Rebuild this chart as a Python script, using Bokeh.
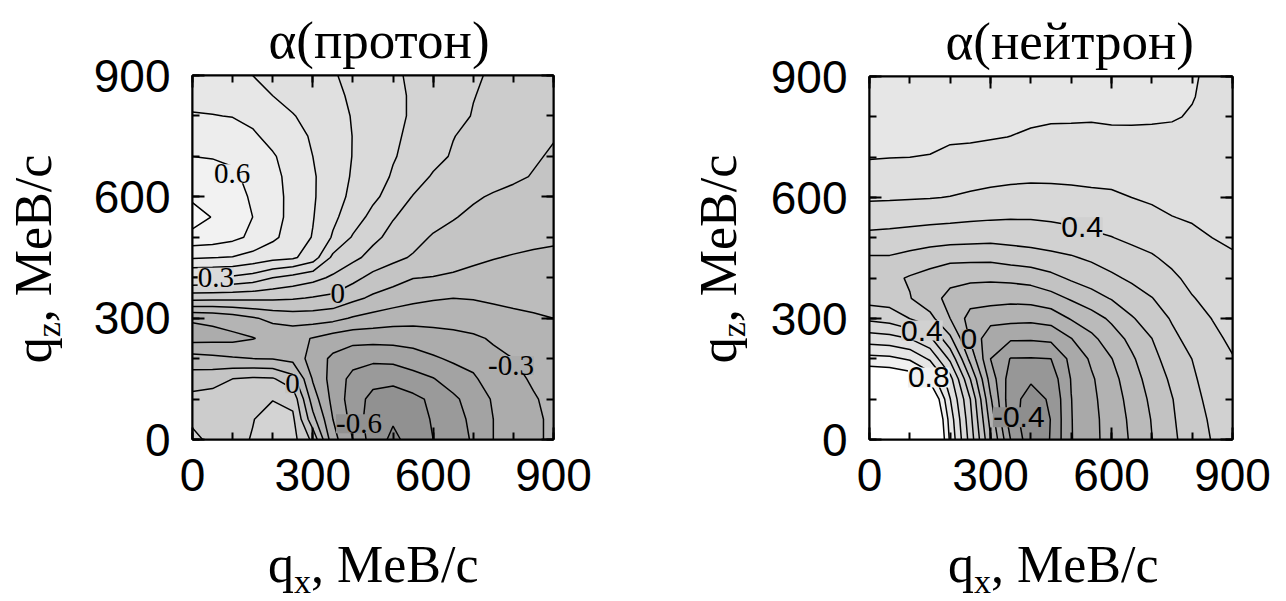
import numpy as np
from bokeh.plotting import figure
from bokeh.models import FixedTicker, LinearAxis, Label, Range1d, Div, Title
from bokeh.layouts import row, column
from bokeh.embed import file_html
from bokeh.resources import INLINE

# ---------------- grid (MeV/c) ----------------
qx = [0, 50, 100, 150, 200, 250, 300, 350, 400, 450, 500, 550, 600, 650, 700, 750, 800, 850, 900]
qz = [0, 50, 100, 150, 200, 250, 300, 350, 400, 450, 500, 550, 600, 650, 700, 750, 800, 850, 900]

# ---------------- alpha(proton): one list per qz row, values along qx ----------------
p_z0   = [0.12, 0.08, 0.085, 0.103, 0.14, 0.135, -0.025, -0.364, -0.5, -0.653, -0.72, -0.666, -0.6, -0.555, -0.487, -0.4, -0.36, -0.32, -0.28]
p_z50  = [0.085, 0.08, 0.085, 0.098, 0.12, 0.12, -0.167, -0.4, -0.535, -0.66, -0.69, -0.65, -0.59, -0.535, -0.48, -0.4, -0.36, -0.32, -0.28]
p_z100 = [0.03, 0.04, 0.055, 0.08, 0.098, 0.07, -0.25, -0.43, -0.55, -0.63, -0.655, -0.625, -0.58, -0.52, -0.455, -0.39, -0.35, -0.31, -0.27]
p_z150 = [-0.05, -0.037, 0.0, 0.015, 0.01, -0.065, -0.31, -0.44, -0.53, -0.567, -0.57, -0.537, -0.505, -0.45, -0.415, -0.35, -0.33, -0.285, -0.26]
p_z200 = [-0.16, -0.175, -0.19, -0.2, -0.205, -0.23, -0.345, -0.42, -0.462, -0.478, -0.473, -0.448, -0.413, -0.385, -0.365, -0.321, -0.3, -0.255, -0.24]
p_z250 = [-0.335, -0.33, -0.325, -0.305, -0.27, -0.27, -0.305, -0.345, -0.367, -0.366, -0.363, -0.355, -0.34, -0.328, -0.315, -0.29, -0.258, -0.232, -0.22]
p_z300 = [-0.29, -0.28, -0.25, -0.21, -0.175, -0.155, -0.155, -0.17, -0.21, -0.235, -0.255, -0.265, -0.265, -0.262, -0.25, -0.235, -0.22, -0.21, -0.2]
p_z350 = [0.038, 0.033, 0.028, 0.024, 0.02, 0.01, -0.006, -0.022, -0.075, -0.117, -0.147, -0.174, -0.191, -0.199, -0.195, -0.185, -0.178, -0.172, -0.166]
p_z400 = [0.295, 0.29, 0.283, 0.256, 0.2, 0.165, 0.13, 0.084, 0.03, -0.03, -0.062, -0.097, -0.104, -0.115, -0.122, -0.128, -0.133, -0.137, -0.14]
p_z450 = [0.51, 0.502, 0.495, 0.465, 0.43, 0.415, 0.35, 0.178, 0.122, 0.07, 0.025, -0.01, -0.035, -0.06, -0.085, -0.097, -0.105, -0.11, -0.113]
p_z500 = [0.665, 0.655, 0.625, 0.58, 0.52, 0.455, 0.395, 0.29, 0.19, 0.12, 0.075, 0.035, -0.01, -0.03, -0.05, -0.065, -0.075, -0.085, -0.09]
p_z550 = [0.75, 0.695, 0.65, 0.6, 0.535, 0.47, 0.405, 0.32, 0.25, 0.17, 0.105, 0.07, 0.038, 0.006, -0.02, -0.04, -0.05, -0.06, -0.07]
p_z600 = [0.68, 0.675, 0.645, 0.585, 0.53, 0.475, 0.41, 0.345, 0.275, 0.22, 0.16, 0.095, 0.07, 0.05, 0.012, -0.01, -0.025, -0.04, -0.055]
p_z650 = [0.64, 0.635, 0.615, 0.575, 0.525, 0.47, 0.41, 0.35, 0.29, 0.245, 0.19, 0.145, 0.09, 0.07, 0.05, 0.035, 0.015, -0.005, -0.02]
p_z700 = [0.6, 0.595, 0.585, 0.56, 0.51, 0.455, 0.4, 0.35, 0.297, 0.26, 0.207, 0.17, 0.13, 0.09, 0.065, 0.045, 0.025, 0.01, -0.01]
p_z750 = [0.553, 0.55, 0.54, 0.515, 0.47, 0.43, 0.39, 0.345, 0.298, 0.26, 0.215, 0.18, 0.14, 0.103, 0.075, 0.055, 0.035, 0.02, 0.005]
p_z800 = [0.505, 0.503, 0.497, 0.475, 0.445, 0.405, 0.37, 0.33, 0.295, 0.26, 0.22, 0.19, 0.16, 0.13, 0.095, 0.075, 0.055, 0.035, 0.015]
p_z850 = [0.48, 0.465, 0.45, 0.43, 0.4, 0.37, 0.345, 0.315, 0.29, 0.26, 0.22, 0.19, 0.16, 0.135, 0.103, 0.08, 0.06, 0.04, 0.025]
p_z900 = [0.46, 0.44, 0.42, 0.4, 0.376, 0.352, 0.33, 0.305, 0.285, 0.255, 0.215, 0.185, 0.16, 0.135, 0.11, 0.09, 0.07, 0.05, 0.03]

# ---------------- alpha(neutron): one list per qx column, values along qz ----------------
n_x0   = [1.2, 1.17, 1.08, 0.92, 0.732, 0.55, 0.378, 0.26, 0.225, 0.29, 0.372, 0.446, 0.512, 0.563, 0.605, 0.62, 0.635, 0.645, 0.65]
n_x50  = [1.18, 1.15, 1.06, 0.9, 0.723, 0.537, 0.357, 0.252, 0.225, 0.29, 0.367, 0.441, 0.51, 0.559, 0.602, 0.618, 0.633, 0.643, 0.65]
n_x100 = [1.15, 1.12, 1.03, 0.87, 0.687, 0.5, 0.299, 0.205, 0.19, 0.27, 0.354, 0.437, 0.507, 0.553, 0.6, 0.615, 0.63, 0.64, 0.648]
n_x150 = [1.1, 1.06, 0.96, 0.767, 0.585, 0.421, 0.231, 0.138, 0.161, 0.245, 0.346, 0.43, 0.504, 0.55, 0.598, 0.612, 0.627, 0.638, 0.648]
n_x200 = [0.68, 0.655, 0.603, 0.536, 0.379, 0.22, 0.1, 0.072, 0.127, 0.226, 0.339, 0.424, 0.497, 0.542, 0.587, 0.608, 0.62, 0.635, 0.645]
n_x250 = [0.357, 0.33, 0.3, 0.2, 0.069, -0.014, -0.04, 0.042, 0.118, 0.224, 0.333, 0.416, 0.485, 0.533, 0.577, 0.61, 0.62, 0.633, 0.645]
n_x300 = [0.01, -0.036, -0.087, -0.143, -0.2, -0.17, -0.06, 0.035, 0.115, 0.223, 0.328, 0.41, 0.474, 0.525, 0.567, 0.605, 0.62, 0.632, 0.645]
n_x350 = [-0.302, -0.36, -0.37, -0.35, -0.305, -0.188, -0.071, 0.027, 0.123, 0.24, 0.335, 0.406, 0.467, 0.518, 0.558, 0.599, 0.618, 0.63, 0.643]
n_x400 = [-0.465, -0.455, -0.43, -0.39, -0.306, -0.189, -0.076, 0.035, 0.136, 0.255, 0.342, 0.406, 0.462, 0.515, 0.553, 0.588, 0.615, 0.63, 0.643]
n_x450 = [-0.395, -0.398, -0.39, -0.356, -0.3, -0.179, -0.059, 0.063, 0.17, 0.274, 0.35, 0.413, 0.469, 0.514, 0.548, 0.581, 0.61, 0.628, 0.643]
n_x500 = [-0.205, -0.204, -0.202, -0.195, -0.172, -0.103, 0.008, 0.111, 0.214, 0.29, 0.361, 0.424, 0.474, 0.516, 0.545, 0.578, 0.61, 0.628, 0.643]
n_x550 = [-0.13, -0.128, -0.122, -0.113, -0.085, -0.024, 0.055, 0.16, 0.245, 0.314, 0.381, 0.434, 0.481, 0.519, 0.549, 0.581, 0.607, 0.625, 0.64]
n_x600 = [-0.06, -0.058, -0.05, -0.035, -0.003, 0.052, 0.118, 0.206, 0.282, 0.342, 0.397, 0.442, 0.486, 0.521, 0.554, 0.587, 0.609, 0.626, 0.64]
n_x650 = [0.012, 0.02, 0.035, 0.058, 0.085, 0.127, 0.191, 0.255, 0.316, 0.368, 0.417, 0.458, 0.5, 0.53, 0.558, 0.586, 0.61, 0.626, 0.64]
n_x700 = [0.098, 0.105, 0.12, 0.14, 0.168, 0.199, 0.247, 0.297, 0.344, 0.39, 0.434, 0.478, 0.512, 0.537, 0.561, 0.586, 0.608, 0.625, 0.638]
n_x750 = [0.18, 0.188, 0.196, 0.218, 0.248, 0.277, 0.309, 0.346, 0.383, 0.421, 0.46, 0.498, 0.52, 0.542, 0.564, 0.585, 0.605, 0.622, 0.635]
n_x800 = [0.25, 0.258, 0.27, 0.285, 0.301, 0.333, 0.364, 0.395, 0.424, 0.453, 0.483, 0.507, 0.525, 0.542, 0.56, 0.577, 0.595, 0.603, 0.605]
n_x850 = [0.305, 0.315, 0.33, 0.345, 0.36, 0.38, 0.402, 0.427, 0.451, 0.476, 0.5, 0.515, 0.53, 0.543, 0.555, 0.566, 0.576, 0.584, 0.59]
n_x900 = [0.34, 0.35, 0.36, 0.375, 0.395, 0.416, 0.436, 0.456, 0.475, 0.495, 0.507, 0.518, 0.528, 0.538, 0.547, 0.556, 0.565, 0.572, 0.578]

# ---------------- contour levels ----------------
proton_levels = [-0.8, -0.7, -0.6, -0.5, -0.4, -0.3, -0.2, -0.1, 0.0, 0.1, 0.2, 0.3, 0.4, 0.5, 0.6, 0.7, 0.8]
neutron_levels = [-0.5, -0.4, -0.3, -0.2, -0.1, 0.0, 0.1, 0.2, 0.3, 0.4, 0.5, 0.6, 0.7, 0.8, 1.4]

# ---------------- tick values ----------------
major_ticks = [0, 300, 600, 900]
minor_ticks = [0, 100, 200, 300, 400, 500, 600, 700, 800, 900]

# ---------------- texts ----------------
title_proton = "α(протон)"
title_neutron = "α(нейтрон)"
axis_symbol = "q"
x_sub = "x"
z_sub = "z"
axis_unit = ", MeB/c"

# contour value labels (text and anchor in qx, qz)
proton_label_text = ["0.6", "0.3", "0", "0", "-0.6", "-0.3"]
proton_label_qx = [99, 58, 362, 249, 415, 794]
proton_label_qz = [657, 401, 360, 138, 39, 183]
neutron_label_text = ["0.4", "0.4", "0", "0.8", "-0.4"]
neutron_label_qx = [527, 130, 246, 147, 370]
neutron_label_qz = [526, 270, 249, 154, 55]

# ---------------- styles ----------------
proton_palette = ['#878787', '#919191', '#9a9a9a', '#a3a3a3', '#acacac', '#b4b4b4', '#bcbcbc', '#c4c4c4',
                  '#cccccc', '#d3d3d3', '#dadada', '#e0e0e0', '#e7e7e7', '#ededed', '#f2f2f2', '#f8f8f8']
neutron_palette = ['#8e8e8e', '#979797', '#a0a0a0', '#a9a9a9', '#b2b2b2', '#bababa', '#c2c2c2', '#cacaca',
                   '#d1d1d1', '#d8d8d8', '#dfdfdf', '#e6e6e6', '#f0f0f0', '#ffffff']

SERIF = "Liberation Serif"
SANS = "Liberation Sans"

Zp = np.array([p_z0, p_z50, p_z100, p_z150, p_z200, p_z250, p_z300, p_z350, p_z400, p_z450,
               p_z500, p_z550, p_z600, p_z650, p_z700, p_z750, p_z800, p_z850, p_z900])
Zn = np.array([n_x0, n_x50, n_x100, n_x150, n_x200, n_x250, n_x300, n_x350, n_x400, n_x450,
               n_x500, n_x550, n_x600, n_x650, n_x700, n_x750, n_x800, n_x850, n_x900]).T


def band_color(levels, palette, value):
    for i in range(len(levels) - 1):
        if levels[i] <= value < levels[i + 1]:
            return palette[i]
    return palette[-1]


def make_panel(Z, levels, palette, fw, fh, bl, br, bt, bb, title):
    p = figure(frame_width=fw, frame_height=fh, x_range=Range1d(0, 900), y_range=Range1d(0, 900),
               output_backend="svg", toolbar_location=None,
               min_border_left=bl, min_border_right=br, min_border_top=bt, min_border_bottom=bb,
               background_fill_color="white", border_fill_color="white")
    p.title = Title(text=title, align="left", offset=76, standoff=13, text_font=SERIF,
                    text_font_size="53px", text_font_style="normal", text_color="black")
    p.contour(x=qx, y=qz, z=Z, levels=levels, fill_color=palette,
              line_color="black", line_width=1.5)
    p.grid.visible = False
    p.outline_line_color = "black"
    p.outline_line_width = 2
    p.add_layout(LinearAxis(), "above")
    p.add_layout(LinearAxis(), "right")
    for ax in p.below + p.left + p.above + p.right:
        ax.ticker = FixedTicker(ticks=major_ticks, minor_ticks=minor_ticks)
        ax.major_tick_in = 12
        ax.major_tick_out = 0
        ax.minor_tick_in = 7
        ax.minor_tick_out = 0
        ax.axis_line_width = 2
        ax.major_tick_line_width = 2
        ax.minor_tick_line_width = 2
        ax.major_label_text_font = SANS
        ax.major_label_text_font_size = "46px"
        ax.major_label_text_color = "black"
    for ax in p.above + p.right:
        ax.major_label_text_font_size = "2px"
        ax.major_label_text_color = None
        ax.major_label_standoff = 0
    p.below[0].major_label_standoff = 19
    p.left[0].major_label_standoff = 22
    return p


def add_value_labels(p, texts, xs, ys, font, size, levels, palette):
    for t, x, y in zip(texts, xs, ys):
        p.add_layout(Label(x=x, y=y, text=t, text_font=font, text_font_size=size, text_color="black",
                           text_align="center", text_baseline="middle",
                           background_fill_color=band_color(levels, palette, float(t) - 0.05),
                           background_fill_alpha=1.0))


def label_html(sub, shift):
    return (f"{axis_symbol}<span style=\"font-size:34px;line-height:28px;vertical-align:-{shift}px;\">"
            f"{sub}</span>{axis_unit}")


def xlabel_div(width, height, left, top):
    html = (f"<div style=\"position:relative;width:{width}px;height:{height}px;\">"
            f"<div style=\"position:absolute;left:{left}px;top:{top}px;white-space:nowrap;"
            f"font-family:'{SERIF}';font-size:52px;line-height:52px;color:black;\">"
            f"{label_html(x_sub, 11)}</div></div>")
    return Div(text=html, width=width, height=height, margin=0)


def ylabel_div(width, height, cx, cy):
    html = (f"<div style=\"position:relative;width:{width}px;height:{height}px;\">"
            f"<div style=\"position:absolute;left:{cx}px;top:{cy}px;white-space:nowrap;"
            f"writing-mode:vertical-rl;transform:translate(-50%,-50%) rotate(180deg);"
            f"font-family:'{SERIF}';font-size:52px;line-height:52px;color:black;\">"
            f"{label_html(z_sub, 15)}</div></div>")
    return Div(text=html, width=width, height=height, margin=0)


# ---------- proton panel ----------
p1 = make_panel(Zp, proton_levels, proton_palette, 361, 364, 122, 90, 75, 90, title_proton)
add_value_labels(p1, proton_label_text, proton_label_qx, proton_label_qz, SERIF, "29px",
                 proton_levels, proton_palette)

# ---------- neutron panel ----------
p2 = make_panel(Zn, neutron_levels, neutron_palette, 363, 363, 116, 54, 76, 90, title_neutron)
add_value_labels(p2, neutron_label_text, neutron_label_qx, neutron_label_qz, SANS, "30px",
                 neutron_levels, neutron_palette)

yl1 = ylabel_div(70, 601, 35, 259)
xl1 = xlabel_div(573, 72, 198, 10)
yl2 = ylabel_div(110, 601, 77, 259)
xl2 = xlabel_div(533, 72, 195, 10)

layout = row(yl1, column(p1, xl1, spacing=0), yl2, column(p2, xl2, spacing=0), spacing=0)
open("out.html", "w").write(file_html(layout, INLINE))
